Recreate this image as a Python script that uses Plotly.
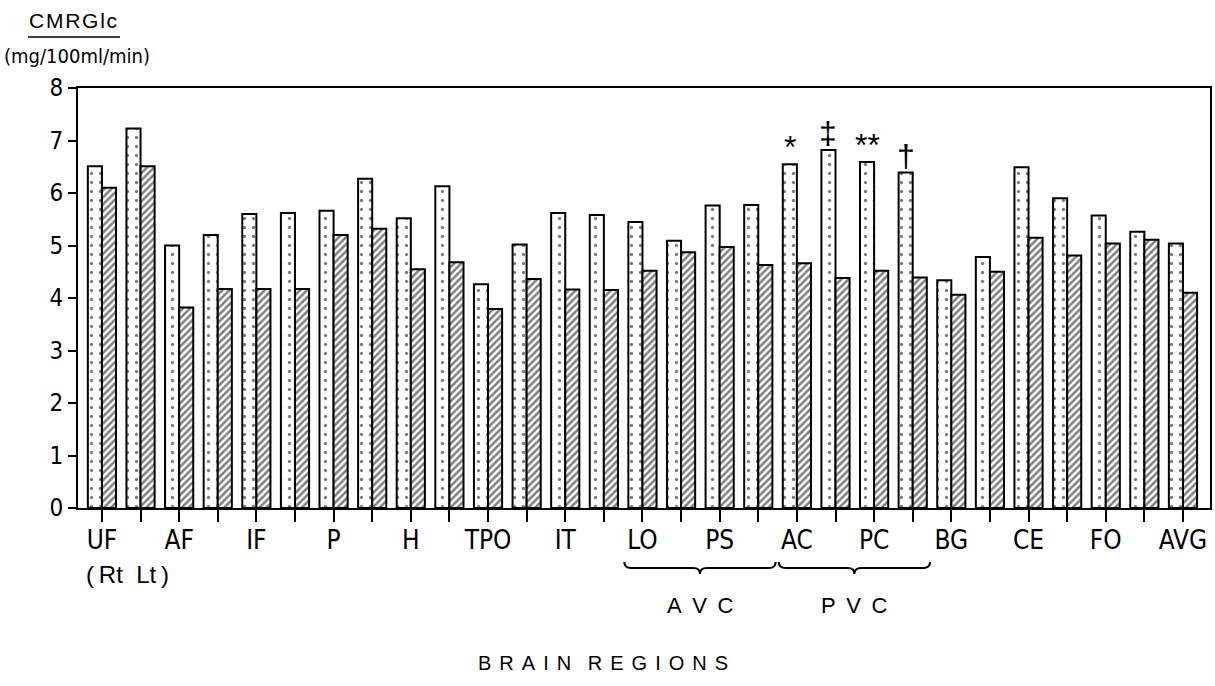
import plotly.graph_objects as go

# ---------------- data ----------------
regions = ["UF", "AF", "IF", "P", "H", "TPO", "IT", "LO", "PS", "AC", "PC", "BG", "CE", "FO"]
avg_label = "AVG"
categories = [f"{r} {s}" for r in regions for s in ("Rt", "Lt")] + [avg_label]
tick_labels = [r if s == "Rt" else "" for r in regions for s in ("Rt", "Lt")] + [avg_label]

dotted_values = [6.51, 7.23, 5.00, 5.20, 5.60, 5.62, 5.66, 6.27, 5.52, 6.13,
                 4.26, 5.02, 5.62, 5.58, 5.45, 5.09, 5.76, 5.77, 6.55, 6.82,
                 6.59, 6.39, 4.34, 4.78, 6.49, 5.90, 5.57, 5.26, 5.04]
hatched_values = [6.10, 6.51, 3.82, 4.17, 4.17, 4.17, 5.20, 5.32, 4.55, 4.68,
                  3.79, 4.36, 4.16, 4.15, 4.52, 4.87, 4.97, 4.63, 4.66, 4.38,
                  4.52, 4.39, 4.06, 4.50, 5.15, 4.81, 5.04, 5.11, 4.10]

significance = {"AC Rt": "*", "AC Lt": "‡", "PC Rt": "**", "PC Lt": "†"}
brace_groups = [("AVC", "LO Rt", "PS Lt"), ("PVC", "AC Rt", "PC Lt")]
y_ticks = [0, 1, 2, 3, 4, 5, 6, 7, 8]

# ---------------- styling ----------------
FONT = "Liberation Sans Narrow, Arial Narrow, DejaVu Sans Condensed, Liberation Sans, Arial, sans-serif"
WIDE = "Liberation Sans, Arial, Helvetica, sans-serif"
W, H = 1215, 686
ML, MR, MT, MB = 78, 5, 88, 178
PLOT_W = W - ML - MR
PLOT_H = H - MT - MB
X_RANGE = [-0.62, len(categories) - 0.3]
BARGAP = 0.27


def px_x(px):
    return (px - ML) / PLOT_W


def px_y(py):
    return (H - MB - py) / PLOT_H


def paper_x(idx):
    return (idx - X_RANGE[0]) / (X_RANGE[1] - X_RANGE[0])


fig = go.Figure()
fig.add_trace(go.Bar(
    x=categories, y=dotted_values, name="dotted",
    marker=dict(color="white", line=dict(color="black", width=2),
                pattern=dict(shape=".", fgcolor="black", bgcolor="white", size=9, solidity=0.11)),
))
fig.add_trace(go.Bar(
    x=categories, y=hatched_values, name="hatched",
    marker=dict(color="white", line=dict(color="black", width=2),
                pattern=dict(shape="/", fgcolor="black", bgcolor="white", size=5, solidity=0.5)),
))

annotations = []
bar_w_units = (1 - BARGAP) / 2
px_per_unit = PLOT_W / (X_RANGE[1] - X_RANGE[0])
for cat, sym in significance.items():
    i = categories.index(cat)
    annotations.append(dict(
        x=cat, y=dotted_values[i], xref="x", yref="y", text=sym, showarrow=False,
        xanchor="center", yanchor="bottom", xshift=-bar_w_units / 2 * px_per_unit,
        yshift=-3, font=dict(family=WIDE, size=32, color="black")))

shapes = []
for label, c0, c1 in brace_groups:
    x0 = paper_x(categories.index(c0) - 0.47)
    x1 = paper_x(categories.index(c1) + 0.45)
    xm = (x0 + x1) / 2
    d = 0.006
    yt, ymid, yb = px_y(562), px_y(568), px_y(574)
    path = (f"M {x0},{yt} Q {x0},{ymid} {x0 + d},{ymid} L {xm - d},{ymid} "
            f"Q {xm},{ymid} {xm},{yb} Q {xm},{ymid} {xm + d},{ymid} "
            f"L {x1 - d},{ymid} Q {x1},{ymid} {x1},{yt}")
    shapes.append(dict(type="path", path=path, xref="paper", yref="paper",
                       line=dict(color="black", width=2)))
    annotations.append(dict(x=xm, y=px_y(605), xref="paper", yref="paper",
                            text="\u00a0\u2009".join(label), showarrow=False,
                            xanchor="center", yanchor="middle",
                            font=dict(family=WIDE, size=22, color="black")))

# (Rt Lt) note
annotations.append(dict(x=px_x(127), y=px_y(574), xref="paper", yref="paper",
                        text="(\u2009Rt\u00a0\u00a0Lt\u2009)", showarrow=False, xanchor="center", yanchor="middle",
                        font=dict(family=WIDE, size=24, color="black")))
# axis title
title_txt = "\u2009\u2009".join("BRAIN") + "\u00a0\u00a0\u00a0" + "\u2009\u2009".join("REGIONS")
annotations.append(dict(x=px_x(603), y=px_y(663), xref="paper", yref="paper",
                        text=title_txt, showarrow=False, xanchor="center", yanchor="middle",
                        font=dict(family=WIDE, size=20, color="black")))
# y label
annotations.append(dict(x=px_x(73), y=px_y(21), xref="paper", yref="paper", text="\u200a".join("CMRGlc"),
                        showarrow=False, xanchor="center", yanchor="middle",
                        font=dict(family=WIDE, size=21, color="black")))
annotations.append(dict(x=px_x(77), y=px_y(56), xref="paper", yref="paper", text="(mg/100ml/min)",
                        showarrow=False, xanchor="center", yanchor="middle",
                        font=dict(family=FONT, size=20, color="black")))

shapes.append(dict(type="line", xref="paper", yref="paper",
                   x0=px_x(28), x1=px_x(120), y0=px_y(37), y1=px_y(37),
                   line=dict(color="black", width=1.5)))

fig.update_layout(
    width=W, height=H,
    margin=dict(l=ML, r=MR, t=MT, b=MB, autoexpand=False),
    paper_bgcolor="white", plot_bgcolor="white",
    barmode="group", bargap=BARGAP, bargroupgap=0,
    showlegend=False,
    annotations=annotations, shapes=shapes,
)
fig.update_xaxes(
    type="category", range=X_RANGE, automargin=False,
    tickmode="array", tickvals=categories, ticktext=tick_labels,
    ticks="outside", ticklen=12, tickwidth=1.5, tickcolor="black",
    ticklabelstandoff=-4,
    showline=True, linecolor="black", linewidth=2, mirror=True,
    showgrid=False, tickfont=dict(family=FONT, size=26, color="black"),
)
fig.update_yaxes(
    range=[0, 8], tickmode="array", tickvals=y_ticks, automargin=False,
    ticks="outside", ticklen=8, tickwidth=1.5, tickcolor="black",
    showline=True, linecolor="black", linewidth=2, mirror=True,
    showgrid=False, zeroline=False, tickfont=dict(family=FONT, size=24, color="black"),
)

fig.write_html("out.html", config={"displayModeBar": False},
               post_script="document.body.style.margin='0';document.body.style.overflow='hidden';")
